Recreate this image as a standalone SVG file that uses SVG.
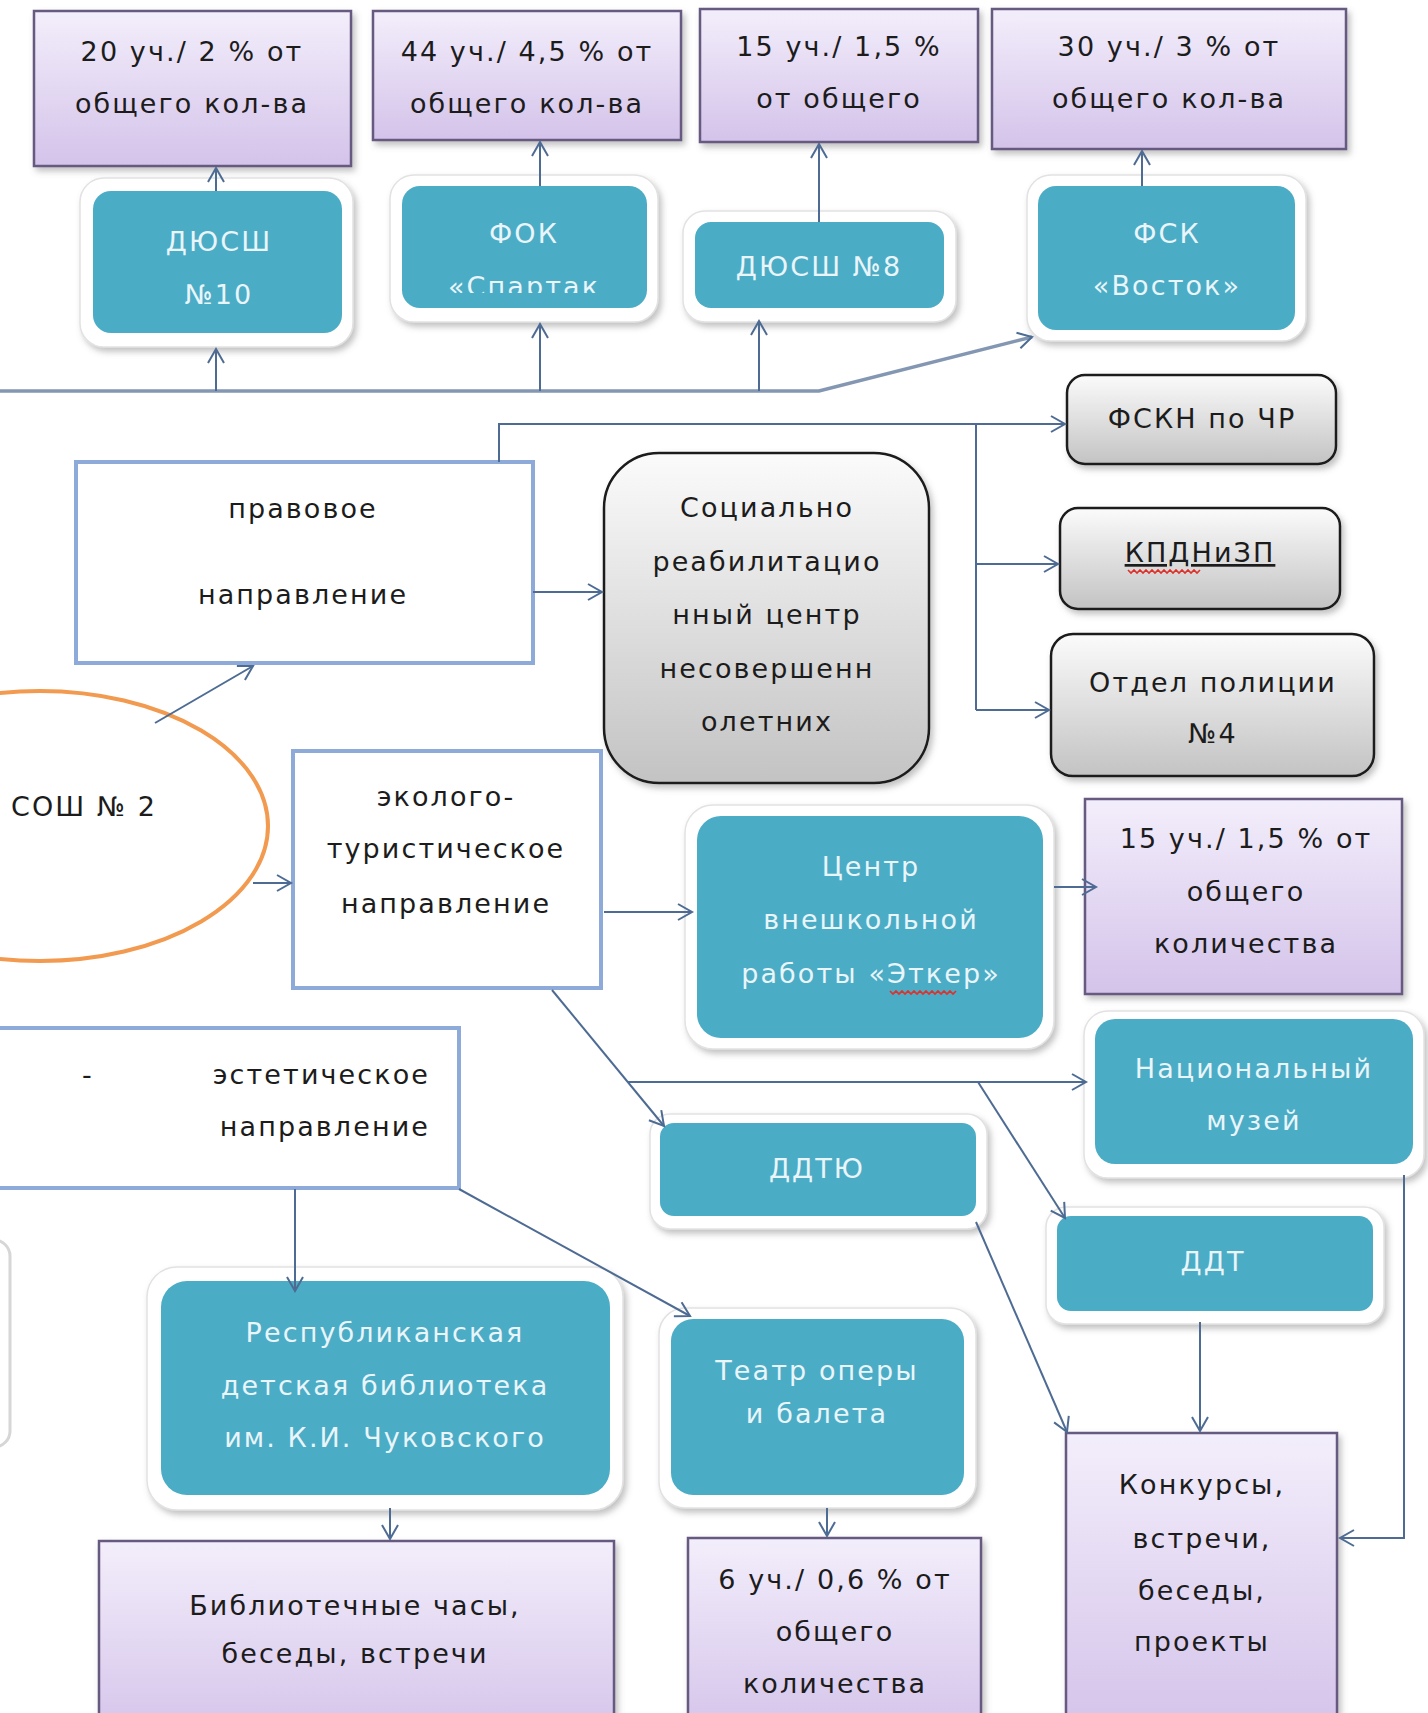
<svg xmlns="http://www.w3.org/2000/svg" width="1428" height="1713" viewBox="0 0 1428 1713">
<defs>
<style>
.t{font-family:"DejaVu Sans","Noto Sans",sans-serif;font-size:27px;letter-spacing:2.1px;text-anchor:middle;fill:#1c1c1c}
.w{fill:#e9f5f9}
.pur{fill:url(#gp);stroke:#665a80;stroke-width:2.5;filter:url(#sh)}
.frame{fill:#ffffff;stroke:#e2e2e2;stroke-width:1.5;filter:url(#sh)}
.teal{fill:#4bacc6}
.gray{fill:url(#gg);stroke:#1a1a1a;stroke-width:2.5;filter:url(#sh)}
.dir{fill:#ffffff;stroke:#8eaad8;stroke-width:4}
.c{fill:none;stroke:#4d6b93;stroke-width:2}
.ca{fill:none;stroke:#4d6b93;stroke-width:2;marker-end:url(#arr)}
.wave{fill:none;stroke:#e0302a;stroke-width:1.6}
</style>
<linearGradient id="gp" x1="0" y1="0" x2="0" y2="1"><stop offset="0" stop-color="#f3eefb"/><stop offset="1" stop-color="#d4c3ea"/></linearGradient>
<linearGradient id="gg" x1="0" y1="0" x2="0" y2="1"><stop offset="0" stop-color="#fbfbfb"/><stop offset="1" stop-color="#c3c3c3"/></linearGradient>
<filter id="sh" x="-10%" y="-10%" width="130%" height="130%"><feDropShadow dx="3" dy="4" stdDeviation="3" flood-color="#777" flood-opacity="0.45"/></filter>
<marker id="arr" markerWidth="20" markerHeight="20" refX="16" refY="10" orient="auto" markerUnits="userSpaceOnUse"><path d="M2,2 L16,10 L2,18" fill="none" stroke="#4d6b93" stroke-width="2"/></marker>
<clipPath id="clipSp"><rect x="390" y="175" width="270" height="118"/></clipPath>
</defs>
<rect width="1428" height="1713" fill="#ffffff"/>

<!-- top purple boxes -->
<g id="p1"><rect class="pur" x="34" y="11" width="317" height="155"/><text class="t" x="192" y="61">20 уч./ 2 % от</text><text class="t" x="192" y="113">общего кол-ва</text></g>
<g id="p2"><rect class="pur" x="373" y="11" width="308" height="129"/><text class="t" x="527" y="61">44 уч./ 4,5 % от</text><text class="t" x="527" y="113">общего кол-ва</text></g>
<g id="p3"><rect class="pur" x="700" y="9" width="278" height="133"/><text class="t" x="839" y="56">15 уч./ 1,5 %</text><text class="t" x="839" y="108">от общего</text></g>
<g id="p4"><rect class="pur" x="992" y="9" width="354" height="140"/><text class="t" x="1169" y="56">30 уч./ 3 % от</text><text class="t" x="1169" y="108">общего кол-ва</text></g>

<!-- teal sport boxes -->
<g id="t1"><rect class="frame" x="80" y="178" width="273" height="169" rx="24"/><rect class="teal" x="93" y="191" width="249" height="142" rx="18"/><text class="t w" x="219" y="251">ДЮСШ</text><text class="t w" x="219" y="304">№10</text></g>
<g id="t2"><rect class="frame" x="390" y="175" width="268" height="147" rx="24"/><rect class="teal" x="402" y="186" width="245" height="122" rx="18"/><text class="t w" x="524" y="243">ФОК</text><text class="t w" x="524" y="296" clip-path="url(#clipSp)">«Спартак</text></g>
<g id="t3"><rect class="frame" x="683" y="211" width="273" height="111" rx="22"/><rect class="teal" x="695" y="222" width="249" height="86" rx="16"/><text class="t w" x="819" y="276">ДЮСШ №8</text></g>
<g id="t4"><rect class="frame" x="1027" y="175" width="279" height="166" rx="24"/><rect class="teal" x="1038" y="186" width="257" height="144" rx="18"/><text class="t w" x="1167" y="243">ФСК</text><text class="t w" x="1167" y="295">«Восток»</text></g>

<!-- direction boxes -->
<g id="pravo"><rect class="dir" x="76" y="462" width="457" height="201"/><text class="t" x="303" y="518">правовое</text><text class="t" x="303" y="604">направление</text></g>
<g id="eko"><rect class="dir" x="293" y="751" width="308" height="237"/><text class="t" x="446" y="806">эколого-</text><text class="t" x="446" y="858">туристическое</text><text class="t" x="446" y="913">направление</text></g>
<g id="est"><rect class="dir" x="-10" y="1028" width="469" height="160"/><text class="t" x="88" y="1084">-</text><text class="t" x="430" y="1084" style="text-anchor:end">эстетическое</text><text class="t" x="430" y="1136" style="text-anchor:end">направление</text></g>

<!-- school ellipse -->
<g id="school"><ellipse cx="40" cy="826" rx="228" ry="135" fill="none" stroke="#f29a4f" stroke-width="4"/><text class="t" x="11" y="816" style="text-anchor:start">СОШ № 2</text></g>

<!-- partial left shape -->
<g id="partial"><rect x="-200" y="1240" width="210" height="207" rx="16" fill="#ffffff" stroke="#d6d6d6" stroke-width="3"/></g>

<!-- gray boxes -->
<g id="g4"><rect class="gray" x="604" y="453" width="325" height="330" rx="55"/><text class="t" x="767" y="517">Социально</text><text class="t" x="767" y="571">реабилитацио</text><text class="t" x="767" y="624">нный центр</text><text class="t" x="767" y="678">несовершенн</text><text class="t" x="767" y="731">олетних</text></g>
<g id="g1"><rect class="gray" x="1067" y="375" width="269" height="89" rx="18"/><text class="t" x="1202" y="428">ФСКН по ЧР</text></g>
<g id="g2"><rect class="gray" x="1060" y="508" width="280" height="101" rx="18"/><text class="t" x="1200" y="562" style="text-decoration:underline">КПДНиЗП</text><path class="wave" d="M1128,570 l3,3 l3,-3 l3,3 l3,-3 l3,3 l3,-3 l3,3 l3,-3 l3,3 l3,-3 l3,3 l3,-3 l3,3 l3,-3 l3,3 l3,-3 l3,3 l3,-3 l3,3 l3,-3 l3,3 l3,-3 l3,3 l3,-3"/></g>
<g id="g3"><rect class="gray" x="1051" y="634" width="323" height="142" rx="22"/><text class="t" x="1213" y="692">Отдел полиции</text><text class="t" x="1213" y="743">№4</text></g>

<!-- centre & results -->
<g id="etker"><rect class="frame" x="685" y="805" width="369" height="244" rx="28"/><rect class="teal" x="697" y="816" width="346" height="222" rx="24"/><text class="t w" x="871" y="876">Центр</text><text class="t w" x="871" y="929">внешкольной</text><text class="t w" x="871" y="983">работы «Эткер»</text><path class="wave" d="M890,991 l3,3 l3,-3 l3,3 l3,-3 l3,3 l3,-3 l3,3 l3,-3 l3,3 l3,-3 l3,3 l3,-3 l3,3 l3,-3 l3,3 l3,-3 l3,3 l3,-3 l3,3 l3,-3 l3,3 l3,-3"/></g>
<g id="p5"><rect class="pur" x="1085" y="799" width="317" height="195"/><text class="t" x="1246" y="848">15 уч./ 1,5 % от</text><text class="t" x="1246" y="901">общего</text><text class="t" x="1246" y="953">количества</text></g>

<g id="museum"><rect class="frame" x="1084" y="1011" width="340" height="167" rx="24"/><rect class="teal" x="1095" y="1019" width="318" height="145" rx="20"/><text class="t w" x="1254" y="1078">Национальный</text><text class="t w" x="1254" y="1130">музей</text></g>
<g id="ddtu"><rect class="frame" x="650" y="1114" width="337" height="115" rx="20"/><rect class="teal" x="660" y="1123" width="316" height="93" rx="14"/><text class="t w" x="817" y="1178">ДДТЮ</text></g>
<g id="ddt"><rect class="frame" x="1046" y="1207" width="338" height="117" rx="20"/><rect class="teal" x="1057" y="1216" width="316" height="95" rx="14"/><text class="t w" x="1213" y="1271">ДДТ</text></g>
<g id="library"><rect class="frame" x="147" y="1267" width="476" height="243" rx="30"/><rect class="teal" x="161" y="1281" width="449" height="214" rx="26"/><text class="t w" x="385" y="1342">Республиканская</text><text class="t w" x="385" y="1395">детская библиотека</text><text class="t w" x="385" y="1447">им. К.И. Чуковского</text></g>
<g id="theatre"><rect class="frame" x="659" y="1308" width="317" height="200" rx="26"/><rect class="teal" x="671" y="1319" width="293" height="176" rx="22"/><text class="t w" x="817" y="1380">Театр оперы</text><text class="t w" x="817" y="1423">и балета</text></g>

<g id="libhours"><rect class="pur" x="99" y="1541" width="515" height="200"/><text class="t" x="355" y="1615">Библиотечные часы,</text><text class="t" x="355" y="1663">беседы, встречи</text></g>
<g id="p6"><rect class="pur" x="688" y="1538" width="293" height="200"/><text class="t" x="835" y="1589">6 уч./ 0,6 % от</text><text class="t" x="835" y="1641">общего</text><text class="t" x="835" y="1693">количества</text></g>
<g id="contests"><rect class="pur" x="1066" y="1433" width="271" height="300"/><text class="t" x="1202" y="1494">Конкурсы,</text><text class="t" x="1202" y="1548">встречи,</text><text class="t" x="1202" y="1600">беседы,</text><text class="t" x="1202" y="1651">проекты</text></g>

<!-- connectors -->
<g id="connectors">
<path d="M0,391 L819,391 L1032,337" fill="none" stroke="#8497b2" stroke-width="3.5" marker-end="url(#arr)"/>
<path class="ca" d="M216,391 L216,349"/>
<path class="ca" d="M540,391 L540,324"/>
<path class="ca" d="M759,391 L759,321"/>
<path class="ca" d="M216,191 L216,168"/>
<path class="ca" d="M540,186 L540,142"/>
<path class="ca" d="M819,222 L819,144"/>
<path class="ca" d="M1142,186 L1142,151"/>
<path class="ca" d="M499,462 L499,424 L1065,424"/>
<path class="c" d="M976,424 L976,710"/>
<path class="ca" d="M976,564 L1058,564"/>
<path class="ca" d="M976,710 L1049,710"/>
<path class="ca" d="M533,592 L602,592"/>
<path class="ca" d="M155,723 L253,666"/>
<path class="ca" d="M253,883 L291,883"/>
<path class="ca" d="M604,912 L692,912"/>
<path class="ca" d="M1054,887 L1096,887"/>
<path class="ca" d="M552,990 L664,1126"/>
<path class="ca" d="M628,1082 L1086,1082"/>
<path class="ca" d="M978,1082 L1065,1218"/>
<path class="ca" d="M976,1222 L1067,1432"/>
<path class="ca" d="M1200,1322 L1200,1431"/>
<path class="ca" d="M1404,1175 L1404,1538 L1340,1538"/>
<path class="ca" d="M295,1189 L295,1291"/>
<path class="ca" d="M459,1189 L690,1316"/>
<path class="ca" d="M390,1508 L390,1539"/>
<path class="ca" d="M827,1508 L827,1536"/>
</g>
</svg>
